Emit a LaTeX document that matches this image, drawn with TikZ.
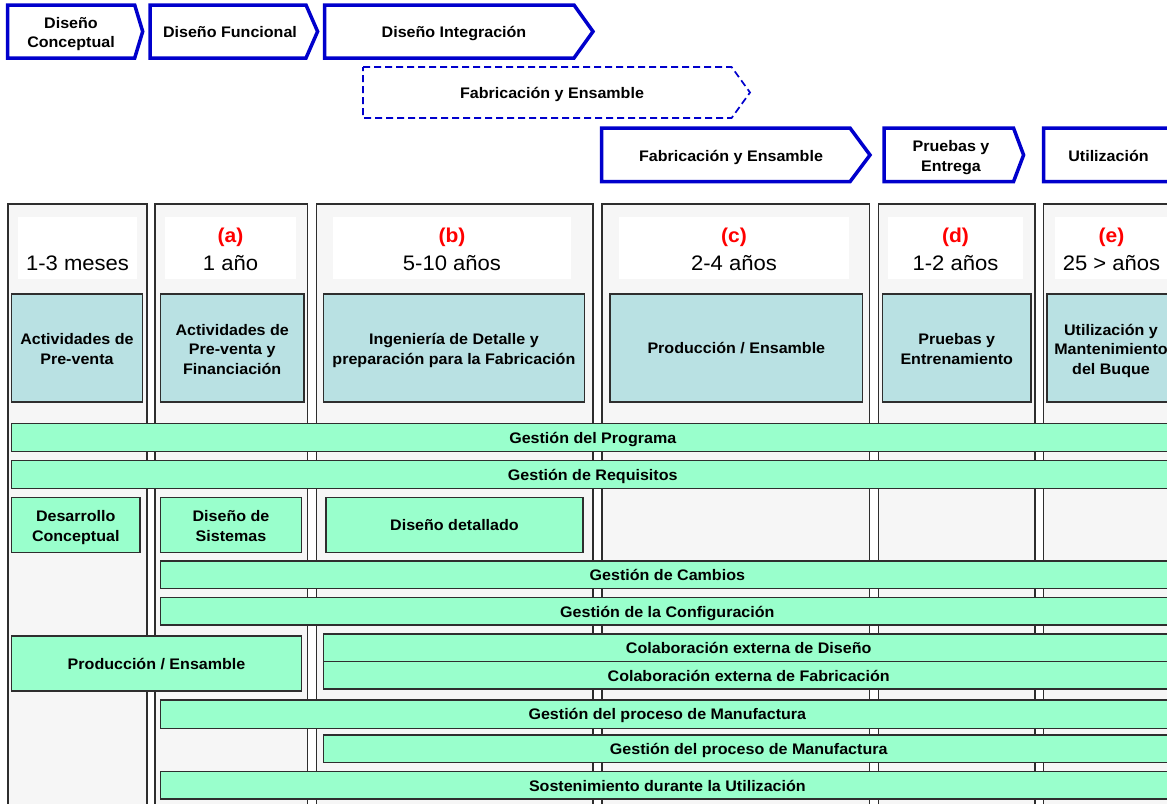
\documentclass[tikz,border=0pt]{standalone}
\usepackage{fontspec}
\setmainfont{Liberation Sans}[FakeStretch=1.05]
\definecolor{arrowblue}{HTML}{0000CC}
\definecolor{colfill}{HTML}{F6F6F6}
\definecolor{phasefill}{HTML}{B9E1E3}
\definecolor{barfill}{HTML}{99FFCC}
\definecolor{edgegray}{HTML}{2E2E2E}
\newcommand\boxfont{\fontsize{15.3}{19.5}\selectfont\bfseries}
\newcommand\tagfont{\fontsize{20}{22}\selectfont\bfseries}
\newcommand\spanfont{\fontsize{21}{24}\selectfont}
% strut that puts the cap-height centre of a line on the node centre
\newcommand\bstrut{\rule[-3.85pt]{0pt}{19.15pt}}
% \boxnode{name}{x1}{y1}{x2}{y2}{box style}{label style}{text}
\newcommand\boxnode[8]{%
  \node[#6, minimum width={(#4)-(#2)}, minimum height={(#5)-(#3)}]
    (#1) at ({((#2)+(#4))/2},{((#3)+(#5))/2}) {};
  \node[#7] (#1-text) at (#1.center) {#8};}
\tikzset{
  column/.style={draw=edgegray, fill=colfill, line width=1.3pt, inner sep=0pt},
  header/.style={fill=white, inner sep=0pt},
  phase/.style={draw=edgegray, fill=phasefill, line width=1.2pt, inner sep=0pt},
  bar/.style={draw=edgegray, fill=barfill, line width=1.2pt, inner sep=0pt},
  lab/.style={font=\boxfont, align=center, inner sep=0pt,
    execute at begin node=\bstrut, execute at end node=\bstrut},
  multi/.style={lab, yshift=-3pt},
  nolab/.style={inner sep=0pt},
  chevron/.style={draw=arrowblue, fill=white, line width=3.5pt, line join=miter},
  dashchevron/.style={draw=arrowblue, line width=1.7pt, dash pattern=on 7pt off 4pt},
  tag/.style={font=\tagfont, text=red, inner sep=0pt, anchor=base},
  span/.style={font=\spanfont, inner sep=0pt, anchor=base},
}
\begin{document}
\begin{tikzpicture}[x=1pt,y=-1pt]
\useasboundingbox (0,0) rectangle (1167,803);
\clip (0,0) rectangle (1167,803);

% ---- phase chevrons ----
\draw[chevron] (7.7,5) -- (134.7,5) -- (142.7,31.5) -- (134.7,58) -- (7.7,58) -- cycle;
\node[multi] (tconc) at (71,31.5) {Diseño\\Conceptual};
\draw[chevron] (150,5) -- (306,5) -- (317.6,31.5) -- (306,58) -- (150,58) -- cycle;
\node[lab] (tfunc) at (230,32) {Diseño Funcional};
\draw[chevron] (324.5,5) -- (574,5) -- (593,31.5) -- (574,58) -- (324.5,58) -- cycle;
\node[lab] (tint) at (454,32) {Diseño Integración};

\draw[dashchevron] (363,67) -- (731.6,67) -- (750,92.5) -- (731.6,118) -- (363,118) -- cycle;
\node[lab] (tfabd) at (552,92.5) {Fabricación y Ensamble};

\draw[chevron] (601.7,128) -- (850,128) -- (870,155) -- (850,181.7) -- (601.7,181.7) -- cycle;
\node[lab] (tfab) at (731,155.5) {Fabricación y Ensamble};
\draw[chevron] (884,128) -- (1013.5,128) -- (1023.6,155) -- (1013.5,181.7) -- (884,181.7) -- cycle;
\node[multi] (tprue) at (951,155) {Pruebas y\\Entrega};
\draw[chevron] (1043.5,128) -- (1190,128) -- (1200,155) -- (1190,181.7) -- (1043.5,181.7) -- cycle;
\node[lab] (tutil) at (1108.5,155.5) {Utilización};

% ---- life-cycle columns ----
\boxnode{col1}{8}{204}{147}{830}{column}{nolab}{}
\boxnode{col2}{155}{204}{307.5}{830}{column}{nolab}{}
\boxnode{col3}{316.5}{204}{593}{830}{column}{nolab}{}
\boxnode{col4}{602}{204}{869.5}{830}{column}{nolab}{}
\boxnode{col5}{878.5}{204}{1035}{830}{column}{nolab}{}
\boxnode{col6}{1043.5}{204}{1190}{830}{column}{nolab}{}

% ---- duration headers ----
\boxnode{hd1}{18}{217}{137}{279}{header}{nolab}{}
\boxnode{hd2}{165}{217}{296}{279}{header}{nolab}{}
\boxnode{hd3}{333}{217}{571}{279}{header}{nolab}{}
\boxnode{hd4}{619}{217}{849}{279}{header}{nolab}{}
\boxnode{hd5}{888}{217}{1023}{279}{header}{nolab}{}
\boxnode{hd6}{1055}{217}{1168}{279}{header}{nolab}{}

\node[tag] (ga) at (230.5,242.5) {(a)};
\node[tag] (gb) at (452,242.5) {(b)};
\node[tag] (gc) at (734,242.5) {(c)};
\node[tag] (gd) at (955.5,242.5) {(d)};
\node[tag] (ge) at (1111.5,242.5) {(e)};

\node[span] (d1) at (77.5,270) {1-3 meses};
\node[span] (d2) at (230.5,270) {1 año};
\node[span] (d3) at (452,270) {5-10 años};
\node[span] (d4) at (734,270) {2-4 años};
\node[span] (d5) at (955.5,270) {1-2 años};
\node[span] (d6) at (1111.5,270) {25 > años};

% ---- phase activities ----
\boxnode{ph1}{11.5}{294}{142.4}{402}{phase}{multi}{Actividades de\\Pre-venta}
\boxnode{ph2}{160.4}{294}{304}{402}{phase}{multi}{Actividades de\\Pre-venta y\\Financiación}
\boxnode{ph3}{323.4}{294}{584.4}{402}{phase}{multi}{Ingeniería de Detalle y\\preparación para la Fabricación}
\boxnode{ph4}{610}{294}{862.7}{402}{phase}{lab}{Producción / Ensamble}
\boxnode{ph5}{882.5}{294}{1031}{402}{phase}{multi}{Pruebas y\\Entrenamiento}
\boxnode{ph6}{1047}{294}{1175}{402}{phase}{multi}{Utilización y\\Mantenimiento\\del Buque}

% ---- management bars ----
\boxnode{prog}{11.5}{423.3}{1174}{451.7}{bar}{lab}{Gestión del Programa}
\boxnode{req}{11.5}{460.7}{1174}{488.3}{bar}{lab}{Gestión de Requisitos}
\boxnode{dcon}{11.5}{497.3}{140}{552.7}{bar}{multi}{Desarrollo\\Conceptual}
\boxnode{dsis}{160.4}{497.3}{301.6}{552.7}{bar}{multi}{Diseño de\\Sistemas}
\boxnode{ddet}{326}{497.3}{583}{552.7}{bar}{lab}{Diseño detallado}
\boxnode{camb}{160.7}{561}{1174}{588.3}{bar}{lab}{Gestión de Cambios}
\boxnode{conf}{160.7}{597.7}{1174}{625}{bar}{lab}{Gestión de la Configuración}
\boxnode{prod}{11.5}{636}{301.6}{691}{bar}{lab}{Producción / Ensamble}
\boxnode{cdis}{323.4}{634}{1174}{661.7}{bar}{lab}{Colaboración externa de Diseño}
\boxnode{cfab}{323.4}{661.7}{1174}{689}{bar}{lab}{Colaboración externa de Fabricación}
\boxnode{man1}{160.7}{700}{1174}{728.3}{bar}{lab}{Gestión del proceso de Manufactura}
\boxnode{man2}{323.4}{735}{1174}{762.3}{bar}{lab}{Gestión del proceso de Manufactura}
\boxnode{sost}{160.7}{771.7}{1174}{799}{bar}{lab}{Sostenimiento durante la Utilización}
\end{tikzpicture}
\end{document}
